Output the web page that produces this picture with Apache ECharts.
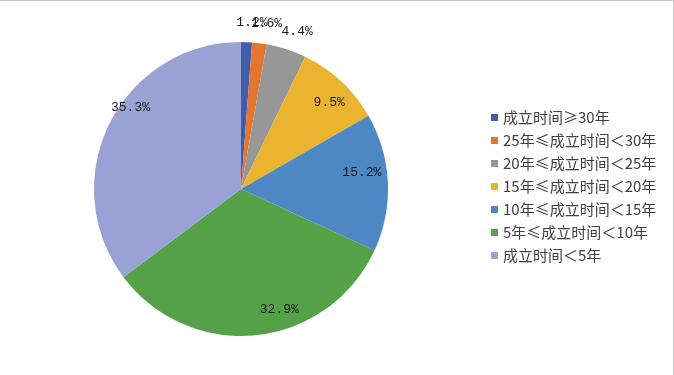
<!DOCTYPE html>
<html>
<head>
<meta charset="utf-8">
<script src="https://cdn.jsdelivr.net/npm/echarts@6/dist/echarts.min.js"></script>
<style>
html,body{margin:0;padding:0;background:#fff;}
#chart{width:674px;height:375px;box-sizing:border-box;border-top:1px solid #c8c8c8;border-right:1px solid #c8c8c8;}
</style>
</head>
<body>
<div id="chart"></div>
<script>
// Data
var categories = ['成立时间≥30年', '25年≤成立时间＜30年', '20年≤成立时间＜25年', '15年≤成立时间＜20年', '10年≤成立时间＜15年', '5年≤成立时间＜10年', '成立时间＜5年'];
var values = [1.2, 1.6, 4.4, 9.5, 15.2, 32.9, 35.3];
var colors = ['#3F5DAA', '#E3772F', '#979797', '#EAB431', '#4D88C4', '#55A148', '#99A1D5'];

// label placement (style only)
var labelNudge = [[-16, 0], [-16, 0], [-16, 1], [3, 5], [-4, -11], [25, -4], [0, 0]];

var chart = echarts.init(document.getElementById('chart'), null, {renderer: 'canvas'});
var center = [241, 188];
var R = 147;
var labelFont = {fontFamily: 'Liberation Mono', fontSize: 13, color: '#1a1a1a'};

function labelSeries(idxList, r0, r1, angleShift, pos) {
  return {
    type: 'pie', silent: true, center: center, radius: [r0, r1],
    startAngle: 90 - (angleShift || 0), clockwise: true, avoidLabelOverlap: false,
    itemStyle: {color: 'rgba(0,0,0,0)', borderWidth: 0},
    emphasis: {disabled: true},
    labelLayout: {hideOverlap: false},
    labelLine: {show: false, length: 20, length2: 0},
    data: categories.map(function (c, i) {
      return {
        name: c, value: values[i],
        label: Object.assign({show: idxList.indexOf(i) >= 0, position: pos || 'inside', formatter: '{c}%', offset: labelNudge[i], alignTo: 'none'}, labelFont)
      };
    })
  };
}

chart.setOption({
  animation: false,
  legend: {
    orient: 'vertical', left: 486, top: 104,
    icon: 'rect', itemWidth: 7, itemHeight: 7, itemGap: 8,
    data: categories,
    textStyle: {fontFamily: 'Noto Sans CJK SC', fontSize: 15, color: '#404040', lineHeight: 15, padding: [0, 0, 0, 0]}
  },
  series: [
    {
      type: 'pie', center: center, radius: R,
      startAngle: 90, clockwise: true,
      label: {show: false}, labelLine: {show: false},
      itemStyle: {borderWidth: 0},
      emphasis: {disabled: true},
      data: categories.map(function (c, i) {
        return {name: c, value: values[i], itemStyle: {color: colors[i]}};
      })
    },
    labelSeries([0], 0, R, 0, 'outside'),
    labelSeries([1], 0, R, 0, 'outside'),
    labelSeries([2], 0, R, 0, 'outside'),
    labelSeries([3, 4, 5], 94, 150),
    labelSeries([6], 124, 144, 9.7)
  ]
});
</script>
</body>
</html>
